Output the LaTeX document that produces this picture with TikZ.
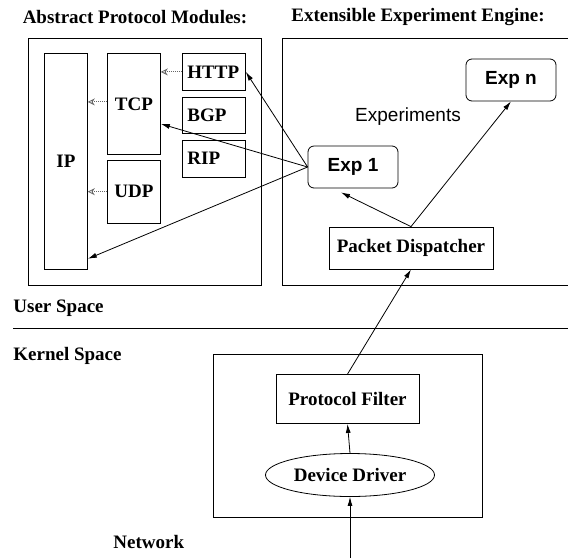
\documentclass[tikz,border=0pt]{standalone}
\usepackage{fontspec}
\setmainfont{Liberation Serif}
\setsansfont{Liberation Sans}
\usetikzlibrary{shapes,
                arrows.meta,
                positioning}
\tikzset{module/.style =
   {rectangle,
    draw,
    inner sep=0pt,
    text centered,
    font=\fontsize{19}{23}\selectfont\bfseries}}
\tikzset{app/.style =
   {module,
    minimum width=63pt,
    text width=53pt,
    inner xsep=5pt,
    align=left}}
\tikzset{experiment/.style =
   {rectangle,
    rounded corners=6pt,
    draw,
    minimum width=90pt,
    minimum height=42pt,
    font=\fontsize{19}{23}\selectfont\sffamily\bfseries}}
\tikzset{caption/.style = {inner sep=0pt, font=\fontsize{19}{23}\selectfont\bfseries}}
\tikzset{arrow/.style = {draw, -{Latex[length=9pt,width=5pt]}}}
\tikzset{uses/.style = {draw, black!60, line width=1pt, densely dotted,
                        -{Stealth[open,length=7pt,width=7pt,line width=0.8pt]}}}

\begin{document}
\begin{tikzpicture}[x=1pt, y=-1pt, line width=0.8pt]
    \useasboundingbox (0,0) rectangle (568,558);

    % titles and spaces
    \node [caption] (modtitle) at (135,17) {Abstract Protocol Modules:};
    \node [caption] (engtitle) at (418,17) {Extensible Experiment Engine:};
    \node [caption, anchor=base west] (user) at (13,312) {User Space};
    \node [caption, anchor=base west] (kernel) at (13,360) {Kernel Space};
    \node [caption, anchor=base west] (network) at (113,548) {Network};

    \draw (28,38) rectangle (261,285);
    \draw (570,38) -- (282,38) -- (282,285) -- (570,285);
    \draw (13,328) -- (568,328);
    \draw (213,354) rectangle (482,517);

    % protocol modules
    \node [module, minimum width=43pt, minimum height=216pt, anchor=north west] (ip) at (44,53) {IP};
    \node [module, minimum width=53pt, minimum height=101pt, anchor=north west] (tcp) at (107,53) {TCP};
    \node [module, minimum width=53pt, minimum height=63pt, below=5pt of tcp] (udp) {UDP};
    \node [app, minimum height=37pt, anchor=north west] (http) at (182,53) {HTTP};
    \node [app, minimum height=36pt, below=6pt of http] (bgp) {BGP};
    \node [app, minimum height=37pt, below=6pt of bgp] (rip) {RIP};

    \draw [uses] (http.west) -- (http.west -| tcp.east);
    \draw [uses] ([yshift=2pt]tcp.west) -- ([yshift=2pt]tcp.west -| ip.east);
    \draw [uses] (udp.west) -- (udp.west -| ip.east);

    % experiment engine
    \node [experiment] (exp1) at (353,167) {Exp 1};
    \node [experiment] (expn) at (511,80) {Exp n};
    \node [font=\fontsize{19}{23}\selectfont\sffamily] (experiments) at (408,117) {Experiments};
    \node [module, minimum width=164pt, minimum height=42pt] (pd) at (411,248) {Packet Dispatcher};

    \draw [arrow] (exp1.west) -- (http.east);
    \draw [arrow] (exp1.west) -- ([yshift=-20pt]tcp.east);
    \draw [arrow] (exp1.west) -- ([yshift=11pt]ip.south east);
    \draw [arrow] (pd.north) -- ([xshift=-12pt,yshift=-4pt]exp1.south);
    \draw [arrow] (pd.north) -- (expn.south);

    % kernel
    \node [module, minimum width=143pt, minimum height=49pt] (pf) at (347.5,399) {Protocol Filter};
    \node [module, ellipse, minimum width=169pt, minimum height=43pt] (dd) at (350,475) {Device Driver};
    \coordinate (wire) at (350,558);

    \draw [arrow] (pf.north) -- (pd.south);
    \draw [arrow] (dd.north) -- (pf.south);
    \draw [arrow] (wire) -- (dd.south);

\end{tikzpicture}
\end{document}
